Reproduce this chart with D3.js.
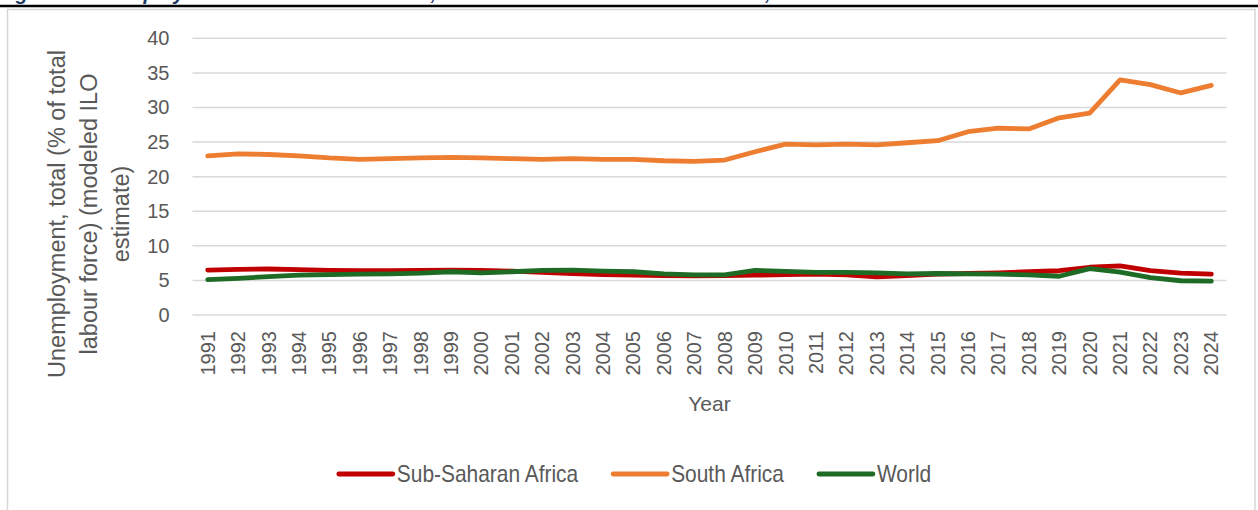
<!DOCTYPE html>
<html>
<head>
<meta charset="utf-8">
<script src="https://cdn.jsdelivr.net/npm/d3@7"></script>
<style>
  html, body { margin: 0; padding: 0; background: #fff; overflow: hidden; }
  svg { display: block; }
</style>
</head>
<body>
<svg id="chart" width="1258" height="510"></svg>
<script>
// Unemployment, total (% of total labour force), modeled ILO estimate
const years = ["1991","1992","1993","1994","1995","1996","1997","1998","1999","2000",
  "2001","2002","2003","2004","2005","2006","2007","2008","2009","2010",
  "2011","2012","2013","2014","2015","2016","2017","2018","2019","2020",
  "2021","2022","2023","2024"];

const subSaharanAfrica = [6.5, 6.6, 6.65, 6.55, 6.45, 6.4, 6.4, 6.45, 6.5, 6.45,
  6.35, 6.15, 6.0, 5.85, 5.75, 5.7, 5.65, 5.7, 5.75, 5.85,
  5.9, 5.8, 5.5, 5.7, 5.9, 6.0, 6.1, 6.25, 6.4, 6.9,
  7.1, 6.4, 6.05, 5.9];

const southAfrica = [23.0, 23.3, 23.2, 23.0, 22.7, 22.5, 22.6, 22.7, 22.8, 22.7,
  22.6, 22.5, 22.6, 22.5, 22.5, 22.3, 22.2, 22.4, 23.6, 24.7,
  24.6, 24.7, 24.6, 24.9, 25.2, 26.5, 27.0, 26.9, 28.5, 29.2,
  34.0, 33.3, 32.1, 33.2];

const world = [5.1, 5.3, 5.55, 5.75, 5.85, 5.9, 5.95, 6.05, 6.25, 6.1,
  6.25, 6.45, 6.5, 6.35, 6.25, 5.95, 5.8, 5.8, 6.45, 6.3,
  6.15, 6.15, 6.1, 5.95, 6.0, 5.95, 5.9, 5.8, 5.6, 6.7,
  6.2, 5.4, 4.95, 4.9];

const yTicks = [0, 5, 10, 15, 20, 25, 30, 35, 40];

const seriesList = [
  { name: "Sub-Saharan Africa", values: subSaharanAfrica, color: "#C00000" },
  { name: "South Africa", values: southAfrica, color: "#ED7D31" },
  { name: "World", values: world, color: "#1D6B24" }
];

const yTitleLines = ["Unemployment, total (% of total", "labour force) (modeled ILO", "estimate)"];
const xTitle = "Year";
const captionText = "Figure 3: Unemployment rate for South Africa, Sub-Saharan Africa and the World, 1991–2024";

const svg = d3.select("#chart");
const textColor = "#595959";
const fontFamily = "'Liberation Sans', Arial, sans-serif";

// caption running above the frame, with the rule beneath it
svg.append("text")
  .attr("x", -2).attr("y", -0.5)
  .attr("font-family", fontFamily)
  .attr("font-size", 20).attr("font-weight", "bold").attr("font-style", "italic")
  .attr("fill", "#1F3864")
  .text(captionText);

svg.append("line")
  .attr("x1", 0).attr("x2", 1258).attr("y1", 6).attr("y2", 6)
  .attr("stroke", "#000").attr("stroke-width", 2.5);

// chart area frame
svg.append("rect")
  .attr("x", 7.5).attr("y", 9.5).attr("width", 1247.5).attr("height", 520)
  .attr("fill", "#fff").attr("stroke", "#d6d6d6").attr("stroke-width", 1.5);

const plot = { left: 192.5, right: 1226.5, top: 38.3, bottom: 315 };

const x = d3.scaleBand().domain(years).range([plot.left, plot.right]).padding(0);
const y = d3.scaleLinear().domain([0, 40]).range([plot.bottom, plot.top]);
const cx = d => x(d) + x.bandwidth() / 2;

// horizontal gridlines
svg.append("g")
  .selectAll("line").data(yTicks).join("line")
  .attr("x1", plot.left).attr("x2", plot.right)
  .attr("y1", d => y(d)).attr("y2", d => y(d))
  .attr("stroke", "#d9d9d9").attr("stroke-width", 1.5);

// y axis labels
const yAxis = svg.append("g")
  .attr("transform", `translate(${plot.left - 23},0)`)
  .call(d3.axisLeft(y).tickValues(yTicks).tickSize(0).tickPadding(0));
yAxis.select(".domain").remove();
yAxis.selectAll("text")
  .attr("font-family", fontFamily).attr("font-size", 20).attr("fill", textColor);

// x axis labels, rotated
const xAxis = svg.append("g")
  .attr("transform", `translate(0,${plot.bottom})`)
  .call(d3.axisBottom(x).tickSize(0).tickPadding(0));
xAxis.select(".domain").remove();
xAxis.selectAll("text")
  .attr("font-family", fontFamily).attr("font-size", 20).attr("fill", textColor)
  .attr("transform", "rotate(-90)")
  .attr("text-anchor", "end")
  .attr("x", -16).attr("y", 0).attr("dy", "0.35em");

// axis titles
const yTitle = svg.append("text")
  .attr("font-family", fontFamily).attr("font-size", 23.5).attr("fill", textColor)
  .attr("text-anchor", "middle")
  .attr("transform", "translate(57,214) rotate(-90)");
yTitleLines.forEach((line, i) => {
  yTitle.append("tspan").attr("x", 0).attr("y", 8 + i * 32).text(line);
});

svg.append("text")
  .attr("x", (plot.left + plot.right) / 2).attr("y", 411)
  .attr("text-anchor", "middle")
  .attr("font-family", fontFamily).attr("font-size", 21).attr("fill", textColor)
  .text(xTitle);

// series lines
const lineGen = values => d3.line()
  .x((d, i) => cx(years[i]))
  .y(d => y(d))(values);

svg.append("g")
  .selectAll("path").data(seriesList).join("path")
  .attr("d", d => lineGen(d.values))
  .attr("fill", "none")
  .attr("stroke", d => d.color)
  .attr("stroke-width", 4.8)
  .attr("stroke-linecap", "round")
  .attr("stroke-linejoin", "round");

// legend, centred under the plot; labels set in a condensed cut
const legend = svg.append("g");
const squeeze = 0.91;
const items = legend.selectAll("g").data(seriesList).join("g");
items.append("line")
  .attr("x1", 0).attr("x2", 54).attr("y1", 0).attr("y2", 0)
  .attr("stroke", d => d.color).attr("stroke-width", 4.8).attr("stroke-linecap", "round");
items.append("text")
  .attr("transform", `translate(58,0) scale(${squeeze},1)`)
  .attr("dy", "0.35em")
  .attr("font-family", fontFamily).attr("font-size", 23).attr("fill", textColor)
  .text(d => d.name);

let offset = 0;
const widths = [];
items.each(function () {
  const w = 58 + squeeze * d3.select(this).select("text").node().getComputedTextLength();
  widths.push(w);
});
const gap = 35;
const total = d3.sum(widths) + gap * (widths.length - 1);
const start = 635 - total / 2;
items.attr("transform", (d, i) => {
  const tx = start + offset;
  offset += widths[i] + gap;
  return `translate(${tx},474)`;
});
</script>
</body>
</html>
